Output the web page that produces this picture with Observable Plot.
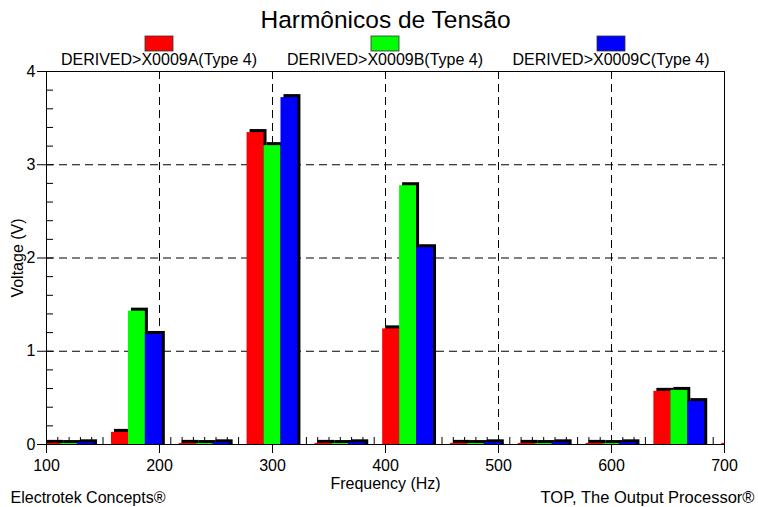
<!DOCTYPE html>
<html>
<head>
<meta charset="utf-8">
<script src="https://cdn.jsdelivr.net/npm/d3@7"></script>
<script src="https://cdn.jsdelivr.net/npm/@observablehq/plot@0.6"></script>
<style>
  html, body { margin: 0; padding: 0; background: #fff; }
  #chart { width: 758px; height: 507px; }
  #chart svg { display: block; }
</style>
</head>
<body>
<div id="chart"></div>
<script>
// ---- data ----
const chartTitle = "Harmônicos de Tensão";
const seriesNames = ["DERIVED>X0009A(Type 4)", "DERIVED>X0009B(Type 4)", "DERIVED>X0009C(Type 4)"];
const seriesColors = ["#ff0000", "#00ff00", "#0000ff"];
const harmonicsHz = [120, 180, 240, 300, 360, 420, 480, 540, 600, 660, 720];
const phaseA = [0.012, 0.13, 0.012, 3.345, 0.012, 1.24, 0.012, 0.012, 0.012, 0.57, 0.012];
const phaseB = [0.010, 1.43, 0.010, 3.205, 0.010, 2.775, 0.010, 0.010, 0.010, 0.58, 0.010];
const phaseC = [0.018, 1.18, 0.018, 3.72, 0.018, 2.11, 0.018, 0.018, 0.018, 0.46, 0.018];
const barWidthHz = 15;
const xTicks = [100, 200, 300, 400, 500, 600, 700];
const yTicks = [0, 1, 2, 3, 4];
const xMinor = d3.range(110, 700, 10);
const yMinor = d3.range(0.2, 4, 0.2);
const xLabel = "Frequency (Hz)";
const yLabel = "Voltage (V)";
const footerLeft = "Electrotek Concepts®";
const footerRight = "TOP, The Output Processor®";

// ---- build table ----
const seriesValues = [phaseA, phaseB, phaseC];
const bars = [];
seriesValues.forEach((vals, s) => {
  harmonicsHz.forEach((f, i) => {
    const c = f + (s - 1) * barWidthHz;
    bars.push({ series: seriesNames[s], color: seriesColors[s], x1: c - barWidthHz / 2, x2: c + barWidthHz / 2, value: vals[i] });
  });
});

const FONT = '"Liberation Sans", Arial, Helvetica, sans-serif';

function legendMark(index, scales, values, dims) {
  const g = d3.create("svg:g");
  const fw = dims.width - dims.marginLeft - dims.marginRight;
  seriesNames.forEach((name, i) => {
    const cx = dims.marginLeft + (i + 0.5) * fw / seriesNames.length;
    g.append("rect")
      .attr("x", cx - 14).attr("y", 36).attr("width", 28).attr("height", 15)
      .attr("fill", seriesColors[i]).attr("stroke", "#333").attr("stroke-width", 0.8);
    g.append("text")
      .attr("x", cx).attr("y", 65)
      .attr("text-anchor", "middle")
      .attr("font-size", 16)
      .attr("font-family", FONT)
      .attr("fill", "black")
      .text(name);
  });
  return g.node();
}

const plot = Plot.plot({
  width: 758,
  height: 507,
  marginLeft: 46,
  marginRight: 34,
  marginTop: 71,
  marginBottom: 63,
  style: { fontFamily: FONT, fontSize: "16px", background: "white", color: "black" },
  x: { domain: [100, 700] },
  y: { domain: [0, 4] },
  color: { type: "identity" },
  marks: [
    Plot.ruleX(xTicks.filter(v => v > 100 && v < 700), { stroke: "black", strokeDasharray: "8,5" }),
    Plot.ruleY(yTicks.filter(v => v > 0 && v < 4), { stroke: "black", strokeDasharray: "8,5" }),
    Plot.ruleX(xMinor, { y1: 0, y2: 0, insetTop: -7, stroke: "black" }),
    Plot.ruleY(yMinor, { x1: 100, x2: 100, insetRight: -7, stroke: "black" }),
    Plot.rectY(bars, { x1: "x1", x2: "x2", y: "value", fill: "black", dx: 3, insetTop: -3, clip: true }),
    Plot.rectY(bars, { x1: "x1", x2: "x2", y: "value", fill: "color", clip: true }),
    Plot.frame({ stroke: "black" }),
    Plot.axisX({ ticks: xTicks, tickSize: 9, tickPadding: 6, tickFormat: d => String(d), label: null, fontSize: 16 }),
    Plot.axisY({ ticks: yTicks, tickSize: 9, tickPadding: 2, tickFormat: d => String(d), label: null, fontSize: 16 }),
    Plot.text([xLabel], { frameAnchor: "bottom", dy: 44, lineAnchor: "bottom", textAnchor: "middle", fontSize: 16 }),
    Plot.text([yLabel], { frameAnchor: "left", dx: -29, rotate: -90, lineAnchor: "middle", textAnchor: "middle", fontSize: 16 }),
    Plot.text([chartTitle], { frameAnchor: "top", dy: -44, lineAnchor: "bottom", textAnchor: "middle", fontSize: 24.5 }),
    Plot.text([footerLeft], { frameAnchor: "bottom-left", dx: -36, dy: 58, textAnchor: "start", lineAnchor: "bottom", fontSize: 16 }),
    Plot.text([footerRight], { frameAnchor: "bottom-right", dx: 30, dy: 58, textAnchor: "end", lineAnchor: "bottom", fontSize: 16.5 }),
    legendMark
  ]
});
document.getElementById("chart").appendChild(plot);
</script>
</body>
</html>
